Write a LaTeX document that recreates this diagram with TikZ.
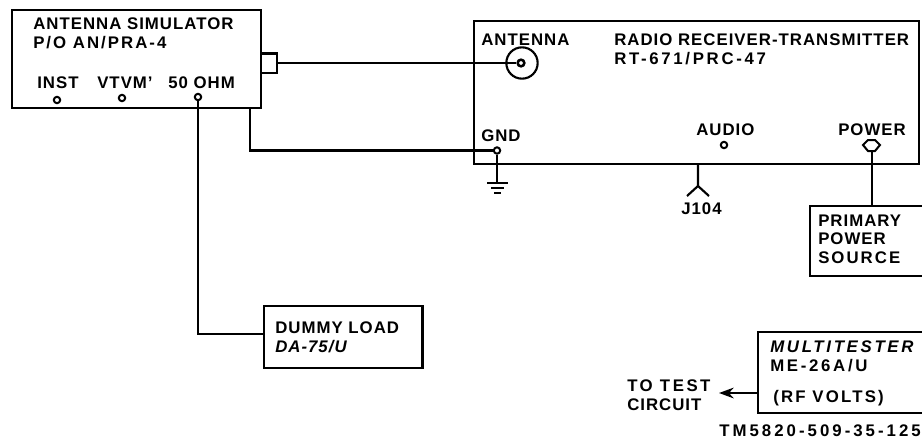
\documentclass[tikz,border=0pt]{standalone}
\usepackage{fontspec}
\setmainfont[LetterSpace=6]{Liberation Sans}
\usetikzlibrary{arrows.meta}
\newcommand\lsp[2]{{\addfontfeature{LetterSpace=#1}#2}}
\tikzset{x=0.75pt,y=-0.75pt,
 box/.style={draw=black,line width=1.9pt,rectangle,inner sep=0pt,outer sep=0pt,anchor=north west},
 wire/.style={draw=black,line width=1.6pt},
 lbl/.style={inner sep=0pt,anchor=west,align=left,font=\bfseries\fontsize{12.6pt}{14pt}\selectfont,text=black},
 dot/.style={circle,draw=black,line width=1.5pt,fill=white,inner sep=0pt,minimum size=4.8pt}}
\begin{document}
\begin{tikzpicture}
\useasboundingbox (0,0) rectangle (922,443);
\clip (0,0) rectangle (922,443);
\fill[white] (0,0) rectangle (922,443);
\node[box,minimum width=186.75pt,minimum height=73.5pt] (sim) at (12,10) {};
\node[box,minimum width=12pt,minimum height=14.5pt] (stub) at (261,53.5) {};
\node[box,minimum width=333.75pt,minimum height=107.25pt] (rt) at (474,21) {};
\node[box,minimum width=90pt,minimum height=52.5pt] (prim) at (810,206) {};
\node[box,minimum width=119pt,minimum height=46.5pt] (dummy) at (264,306) {};
\node[box,minimum width=130pt,minimum height=60.75pt] (multi) at (758,332) {};
\node[circle,draw=black,line width=1.6pt,minimum size=23.5pt,inner sep=0pt] (ant) at (522,63) {};
\node[circle,draw=black,fill=white,line width=1.9pt,minimum size=5pt,inner sep=0pt] (antc) at (521,63) {};
\node[dot] (inst) at (57,100) {};
\node[dot] (vtvm) at (122,98) {};
\node[dot] (ohm) at (198,97) {};
\node[dot] (gnd) at (497,150.5) {};
\node[dot] (audio) at (724,145) {};
\draw[line width=1.5pt,fill=white] (863,145)--(868,140)--(875,140)--(880,145)--(875,151)--(868,151)--cycle;
\coordinate (pow) at (872,151);
\draw[wire] (stub.east|-ant) -- (antc.west);
\coordinate (s1) at (250,108);
\draw[wire] (s1) |- (gnd.west);
\coordinate (g1) at (497,183);
\draw[wire] (gnd.south) -- (g1);
\draw[line width=1.6pt] (487,183)--(508,183) (491,188)--(504,188);
\draw[line width=1.9pt] (494,193)--(501,193);
\coordinate (jt) at (698,164);
\coordinate (jm) at (698,186);
\coordinate (jl) at (687,196);
\coordinate (jr) at (709,196);
\draw[wire] (jt)--(jm)--(jl) (jm)--(jr);
\draw[wire] (pow) -- (pow|-prim.north);
\coordinate (o2) at (198,334);
\draw[wire] (ohm.south) -- (o2) -- (dummy.west|-o2);
\draw[line width=1.9pt,-{Stealth[length=11pt,width=8pt]}] (multi.west|-0,393) -- (719,393);
\node[lbl] (t1) at (33,33) {ANTENNA SIMULATOR\\\lsp{12}{P/O AN/PRA-4}};
\node[lbl] at (37,83) {INST};
\node[lbl] at (97,83) {VTVM'};
\node[lbl] at (168,83) {50 OHM};
\node[lbl] at (481,40) {ANTENNA};
\node[lbl] at (614,49) {RADIO RECEIVER-TRANSMITTER\\\lsp{16}{RT-671/PRC-47}};
\node[lbl] at (481,136) {GND};
\node[lbl] at (696,130) {AUDIO};
\node[lbl] at (838,130) {POWER};
\node[lbl] at (681,209) {J104};
\node[lbl] at (818,239) {PRIMARY\\POWER\\\lsp{12}{SOURCE}};
\node[lbl] at (275,337) {DUMMY LOAD\\\textit{DA-75/U}};
\node[lbl] at (770,356) {\lsp{16}{\textit{MULTITESTER}}\\\lsp{16}{ME-26A/U}};
\node[lbl] at (773,398) {\lsp{13}{(RF VOLTS)}};
\node[lbl] at (627,395) {\lsp{15}{TO TEST}\\CIRCUIT};
\node[lbl] at (719,431) {\lsp{18}{TM5820-509-35-125}};
\end{tikzpicture}
\end{document}
